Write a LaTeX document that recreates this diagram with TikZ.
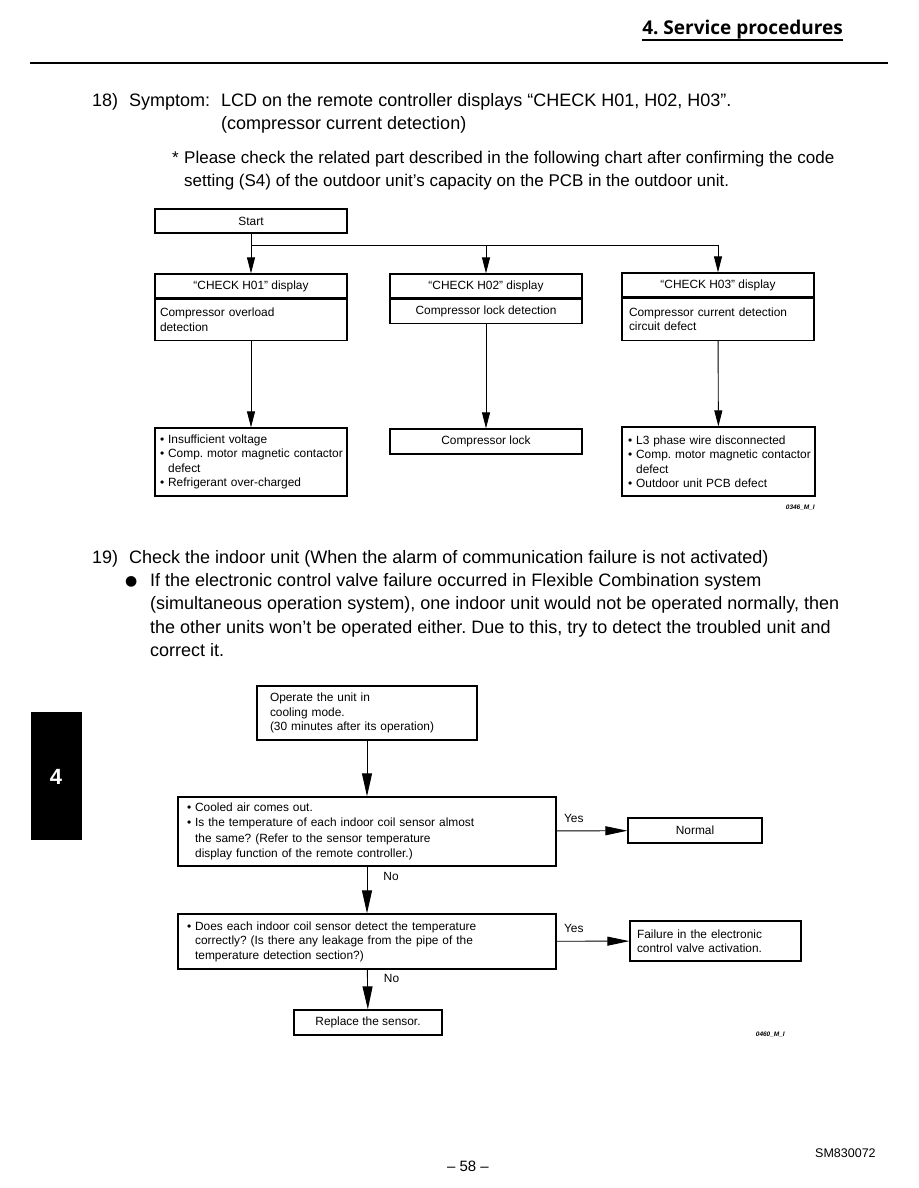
\documentclass[tikz,border=0pt]{standalone}
\usepackage{fontspec}
\setmainfont{Liberation Sans}
\newfontfamily\headfont{Open Sans}
\newfontfamily\symfont{DejaVu Sans}
\usetikzlibrary{arrows.meta,positioning,calc}

\newcommand\chartfont{\fontsize{11.9}{14.5}\selectfont}
\newcommand\bodyfont{\fontsize{18}{23}\selectfont}
\newcommand\notefont{\fontsize{17}{23}\selectfont}
\newcommand\tagfont{\fontsize{6.5}{7}\selectfont\bfseries\itshape}
\newcommand\chartbul{\textbullet\ }
\newcommand\chartpad{\phantom{\textbullet\ }}

\begin{document}
\frenchspacing
\begin{tikzpicture}[
  x=1pt,
  y=-1pt,
  font=\chartfont,
  box/.style={draw=black, line width=1.3pt, inner sep=0pt, align=center},
  leftbox/.style={box, align=left},
  link/.style={line width=0.9pt, draw=black},
  flow/.style={link, -{Triangle[length=16pt,width=8pt]}},
  downflow/.style={link, -{Triangle[length=23pt,width=10pt]}},
  sideflow/.style={link, -{Triangle[length=22pt,width=9pt]}},
  body/.style={font=\bodyfont, anchor=base west, inner sep=0pt},
  tag/.style={font=\tagfont, anchor=base east, inner sep=0pt},
  note/.style={font=\chartfont, inner sep=0pt}
]
\useasboundingbox (0,0) rectangle (918,1188);

% page header
\node[font=\headfont\bfseries\fontsize{19}{21}\selectfont, anchor=base east, inner sep=0pt]
  (head) at (843,35) {4. Service procedures};
\draw[line width=1.5pt] ($(head.base west)+(0,5)$) -- ($(head.base east)+(0,5)$);
\draw[line width=2pt] (30,63) -- (888,63);

% item 18
\node[body] (n18) at (92,107) {18)};
\node[body] (symptom) at (129,107) {Symptom:};
\node[body] (lcd) at (221,107) {LCD on the remote controller displays “CHECK H01, H02, H03”.};
\node[body] (lcd2) at (221,130) {(compressor current detection)};
\node[body, font=\notefont] (star) at (172,163) {*};
\node[body, font=\notefont] (check) at (184,163) {Please check the related part described in the following chart after confirming the code};
\node[body, font=\notefont] (check2) at (184,186) {setting (S4) of the outdoor unit’s capacity on the PCB in the outdoor unit.};

% chart 1
\node[box, minimum width=192, minimum height=24] (start) at (251,221) {Start};
\coordinate (split) at (251,245);

\node[box, minimum width=192, minimum height=24] (h1head) at (251,286) {“CHECK H01” display};
\node[leftbox, minimum width=192, minimum height=41, inner xsep=5pt, text width=182,
  anchor=north] (h1body) at (h1head.south) {Compressor overload\\detection};
\node[box, minimum width=192, minimum height=24] (h2head) at (486,286) {“CHECK H02” display};
\node[box, minimum width=192, minimum height=24, anchor=north] (h2body) at (h2head.south)
  {Compressor lock detection};
\node[box, minimum width=192, minimum height=24] (h3head) at (718,285) {“CHECK H03” display};
\node[leftbox, minimum width=192, minimum height=42, inner xsep=7pt, text width=178,
  anchor=north] (h3body) at (h3head.south) {Compressor current detection\\circuit defect};

\node[leftbox, minimum width=192, minimum height=68, inner xsep=5pt, text width=182]
  (r1) at (251,462)
  {\chartbul Insufficient voltage\\\mbox{\chartbul Comp. motor magnetic contactor}\\\chartpad defect\\\chartbul Refrigerant over-charged};
\node[box, minimum width=192, minimum height=25] (r2) at (486,441.5) {Compressor lock};
\node[leftbox, minimum width=193, minimum height=69, inner xsep=6pt, text width=181]
  (r3) at (718.5,461.5)
  {\chartbul L3 phase wire disconnected\\\mbox{\chartbul Comp. motor magnetic contactor}\\\chartpad defect\\\chartbul Outdoor unit PCB defect};
\node[tag] (tag1) at (815,509) {0346\_M\_I};

\draw[flow] (start) -- (h1head);
\draw[flow] (split) -| (h2head);
\draw[flow] (split) -| (h3head);
\draw[flow] (h1body) -- (r1);
\draw[flow] (h2body) -- (r2);
\draw[flow] (h3body) -- (r3);

% item 19
\node[body] (n19) at (92,563) {19)};
\node[body] (indoor) at (129,563) {Check the indoor unit (When the alarm of communication failure is not activated)};
\node[body, font=\symfont\fontsize{14}{15}\selectfont] (dot) at (125,585) {●};
\node[body] (para1) at (150,586) {If the electronic control valve failure occurred in Flexible Combination system};
\node[body] (para2) at (150,609) {(simultaneous operation system), one indoor unit would not be operated normally, then};
\node[body] (para3) at (150,633) {the other units won’t be operated either. Due to this, try to detect the troubled unit and};
\node[body] (para4) at (150,656) {correct it.};

% chart 2
\node[leftbox, minimum width=220, minimum height=54, inner xsep=13pt, text width=194]
  (operate) at (367,713) {Operate the unit in\\cooling mode.\\(30 minutes after its operation)};
\node[leftbox, minimum width=378, minimum height=69, inner xsep=9pt, text width=360,
  font=\fontsize{11.9}{15.2}\selectfont]
  (cooled) at (367,831.5)
  {\chartbul Cooled air comes out.\\\chartbul Is the temperature of each indoor coil sensor almost\\\chartpad the same? (Refer to the sensor temperature\\\chartpad display function of the remote controller.)};
\node[box, minimum width=134, minimum height=25] (normal) at (695,830.5) {Normal};
\node[leftbox, minimum width=378, minimum height=55, inner xsep=9pt, text width=360]
  (sensor) at (367,941.5)
  {\chartbul Does each indoor coil sensor detect the temperature\\\chartpad correctly? (Is there any leakage from the pipe of the\\\chartpad temperature detection section?)};
\node[leftbox, minimum width=171, minimum height=40, inner xsep=7pt, text width=157]
  (failure) at (715.5,941) {Failure in the electronic\\control valve activation.};
\node[box, minimum width=148, minimum height=25] (replace) at (368,1022.5) {Replace the sensor.};
\node[tag] (tag2) at (785,1036) {0460\_M\_I};

\draw[downflow] (operate) -- (cooled);
\draw[sideflow] (cooled) -- (normal)
  node[pos=0, note, anchor=south west, xshift=7pt, yshift=8pt] {Yes};
\draw[downflow] (cooled) -- (sensor)
  node[pos=0.22, note, anchor=west, xshift=16pt] {No};
\draw[sideflow] (sensor) -- (failure)
  node[pos=0, note, anchor=south west, xshift=7pt, yshift=8pt] {Yes};
\draw[downflow] (sensor) -- (replace)
  node[pos=0.22, note, anchor=west, xshift=16pt] {No};

% side tab and footer
\fill[black] (31,712) rectangle (82,840);
\node[font=\bfseries\fontsize{22}{24}\selectfont, text=white] (tab) at (56,777) {4};
\node[font=\fontsize{15}{17}\selectfont, anchor=base] (page) at (468,1171) {– 58 –};
\node[font=\fontsize{12.5}{14}\selectfont, anchor=base west, inner sep=0pt] (code) at (815,1157) {SM830072};

\end{tikzpicture}
\end{document}
